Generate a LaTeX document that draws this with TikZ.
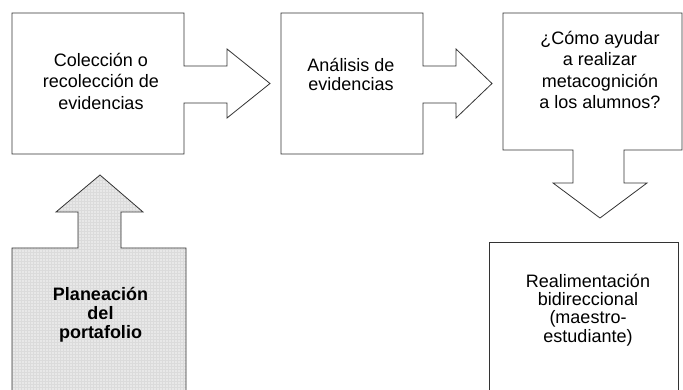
\documentclass[tikz,border=0pt]{standalone}
\usepackage{fontspec}
\setmainfont{Liberation Sans}
\usepackage{tikz}
\usetikzlibrary{patterns}
\newcommand{\txt}[1]{\fontsize{18}{#1}\selectfont}

\begin{document}
\begin{tikzpicture}[x=1pt,y=-1pt,
        outline/.style={draw=black!80, line width=0.8pt, line join=miter},
        label/.style={align=center, inner sep=0pt, font=\txt{#1}},
        label/.default=20]
            \useasboundingbox (0,0) rectangle (683,390);

            % Draw the first box with its arrow to the right
            \draw[outline] (12,13) -- (184,13) -- (184,66) -- (227,66) -- (227,49) -- (270,83.5)
                -- (227,118) -- (227,103) -- (184,103) -- (184,154) -- (12,154) -- cycle;
            \node[label=21.5] (col) at (101,81) {Colección o\\recolección de\\evidencias};

            % Draw the second box with its arrow to the right
            \draw[outline] (281,13) -- (423,13) -- (423,66) -- (456,66) -- (456,49) -- (492,83.5)
                -- (456,118) -- (456,103) -- (423,103) -- (423,154) -- (281,154) -- cycle;
            \node[label=18.5] (ana) at (351,74.5) {Análisis de\\evidencias};

            % Draw the third box with its arrow down
            \draw[outline] (503,13) -- (682,13) -- (682,150) -- (624,150) -- (624,183) -- (647,183)
                -- (600,218) -- (553,183) -- (573,183) -- (573,150) -- (503,150) -- cycle;
            \node[label=21.5] (meta) at (600,70) {¿Cómo ayudar\\a realizar\\metacognición\\a los alumnos?};

            % Draw the open box at the bottom right
            \draw[outline] (489,400) -- (489,242) -- (678,242) -- (678,400);
            \node[label=18.3] (real) at (588,310) {Realimentación\\bidireccional\\(maestro-\\estudiante)};

            % Draw the shaded box with its arrow up
            \path[fill=black!9] (12,400) -- (12,248) -- (78,248) -- (78,212) -- (56,212) -- (100,175)
                -- (143,212) -- (121,212) -- (121,248) -- (186,248) -- (186,400) -- cycle;
            \path[pattern=grid, pattern color=black!14] (12,400) -- (12,248) -- (78,248) -- (78,212)
                -- (56,212) -- (100,175) -- (143,212) -- (121,212) -- (121,248) -- (186,248) -- (186,400) -- cycle;
            \draw[outline] (12,400) -- (12,248) -- (78,248) -- (78,212) -- (56,212) -- (100,175)
                -- (143,212) -- (121,212) -- (121,248) -- (186,248) -- (186,400);
            \node[label=19, font=\txt{19}\bfseries] (plan) at (100.5,314.5) {Planeación\\del\\portafolio};
        \end{tikzpicture}
\end{document}
